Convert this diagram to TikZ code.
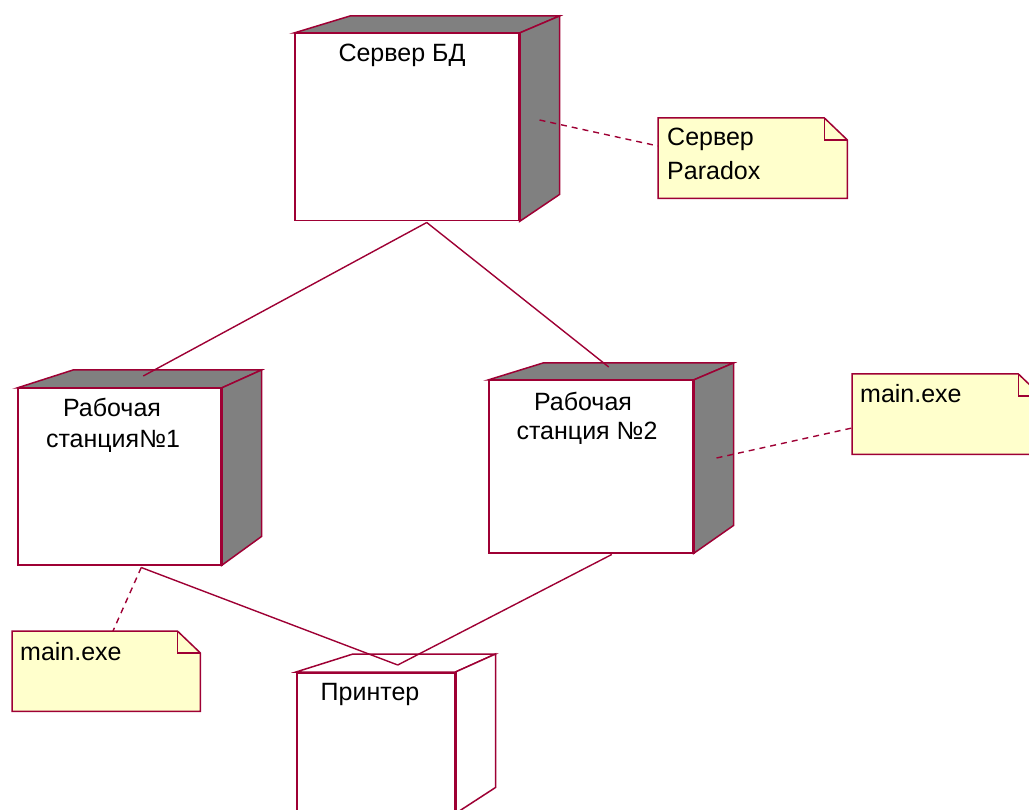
\documentclass[tikz,border=0pt]{standalone}
\usepackage{fontspec}
\setmainfont{Liberation Sans}
\usetikzlibrary{calc}
\definecolor{edge}{RGB}{158,0,52}
\definecolor{shadegray}{RGB}{128,128,128}
\definecolor{notefill}{RGB}{255,255,204}

% top and side faces of a deployment node drawn around its front face #1
% #2 = dx of the back-left top corner, #3 = dy of the top, #4 = dy of the back-bottom corner, #5 = fill
\newcommand\nodefaces[5]{%
  \filldraw[face, fill=#5] (#1.north west) -- ($(#1.north west)+(#2,#3)$)
      -- ($(#1.north east)+(40,#3)$) -- (#1.north east) -- cycle;
  \filldraw[face, fill=#5] (#1.north east) -- ($(#1.north east)+(40,#3)$)
      -- ($(#1.south east)+(40,#4)$) -- (#1.south east) -- cycle;
  \draw[thickedge] (#1.north east) -- (#1.south east);
}

% outline of a note with a folded corner around node #1
\newcommand\noteoutline[1]{%
  \filldraw[noteline] (#1.north west) -- ($(#1.north east)+(-23,0)$)
      -- ($(#1.north east)+(0,22)$) -- (#1.south east) -- (#1.south west) -- cycle;
  \draw[noteline, fill=none] ($(#1.north east)+(-23,0)$) -- ($(#1.north east)+(-23,22)$)
      -- ($(#1.north east)+(0,22)$);
}

\begin{document}
\begin{tikzpicture}[x=1pt,y=-1pt,
  front/.style={draw=edge, fill=white, line width=1.5pt, rectangle, inner sep=0pt, anchor=north west},
  face/.style={draw=edge, line width=1.5pt, line join=miter},
  thickedge/.style={draw=edge, line width=3.5pt},
  link/.style={draw=edge, line width=1.4pt},
  anchorline/.style={draw=edge, line width=1.4pt, dash pattern=on 6pt off 5pt},
  notebox/.style={rectangle, inner sep=0pt, anchor=north west},
  noteline/.style={draw=edge, fill=notefill, line width=1.5pt},
  lbl/.style={inner sep=0pt, anchor=base, font=\fontsize{25}{30}\selectfont, text=black},
  notelbl/.style={lbl, anchor=base west}]

\useasboundingbox (0,0) rectangle (1029,810);

% ---- deployment nodes ----
\node[front, minimum width=224pt, minimum height=187pt] (srv) at (294,33) {};
\nodefaces{srv}{56}{-17}{-27}{shadegray}

\node[front, minimum width=203pt, minimum height=176pt] (ws1) at (17,388) {};
\nodefaces{ws1}{56}{-18}{-29}{shadegray}

\node[front, minimum width=204pt, minimum height=172pt] (ws2) at (488,380) {};
\nodefaces{ws2}{55}{-17}{-28}{shadegray}

\node[front, minimum width=158pt, minimum height=140pt] (prn) at (296,672) {};
\nodefaces{prn}{57}{-18}{-26}{white}

% ---- node labels ----
\node[lbl] (srvt) at (402,62) {Сервер БД};
\node[lbl] (ws1a) at (112,417) {Рабочая};
\node[lbl] (ws1b) at (113,448) {станция№1};
\node[lbl] (ws2a) at (583,410) {Рабочая};
\node[lbl] (ws2b) at (587,440) {станция №2};
\node[lbl] (prnt) at (370,700) {Принтер};

% ---- notes ----
\node[notebox, minimum width=189pt, minimum height=80pt] (nsrv) at (658,118) {};
\noteoutline{nsrv}
\node[notelbl] (nsrva) at (667,146) {Сервер};
\node[notelbl] (nsrvb) at (667,180) {Paradox};

\node[notebox, minimum width=189pt, minimum height=80pt] (nws2) at (852,374) {};
\noteoutline{nws2}
\node[notelbl] (nws2t) at (860,403) {main.exe};

\node[notebox, minimum width=188pt, minimum height=80pt] (nws1) at (12,631) {};
\noteoutline{nws1}
\node[notelbl] (nws1t) at (20,660) {main.exe};

% ---- connection points ----
\coordinate (srvB) at ($(srv.south)+(20,1)$);
\coordinate (srvS) at ($(srv.north east)+(20,87)$);
\coordinate (ws1T) at ($(ws1.north)+(24,-12)$);
\coordinate (ws1B) at ($(ws1.south)+(22,2)$);
\coordinate (ws2T) at ($(ws2.north)+(18,-13)$);
\coordinate (ws2B) at ($(ws2.south)+(21,1)$);
\coordinate (ws2S) at ($(ws2.north east)+(23,78)$);
\coordinate (prnT) at ($(prn.north)+(22,-7)$);

% ---- communication links ----
\draw[link] (srvB) -- (ws1T);
\draw[link] (srvB) -- (ws2T);
\draw[link] (ws1B) -- (prnT);
\draw[link] (ws2B) -- (prnT);

% ---- note anchors ----
\draw[anchorline] (srvS) -- (nsrv.west |- 0,146);
\draw[anchorline] (ws2S) -- (nws2.west |- 0,428);
\draw[anchorline] (ws1B) -- (nws1.north -| 113,0);
\end{tikzpicture}
\end{document}
